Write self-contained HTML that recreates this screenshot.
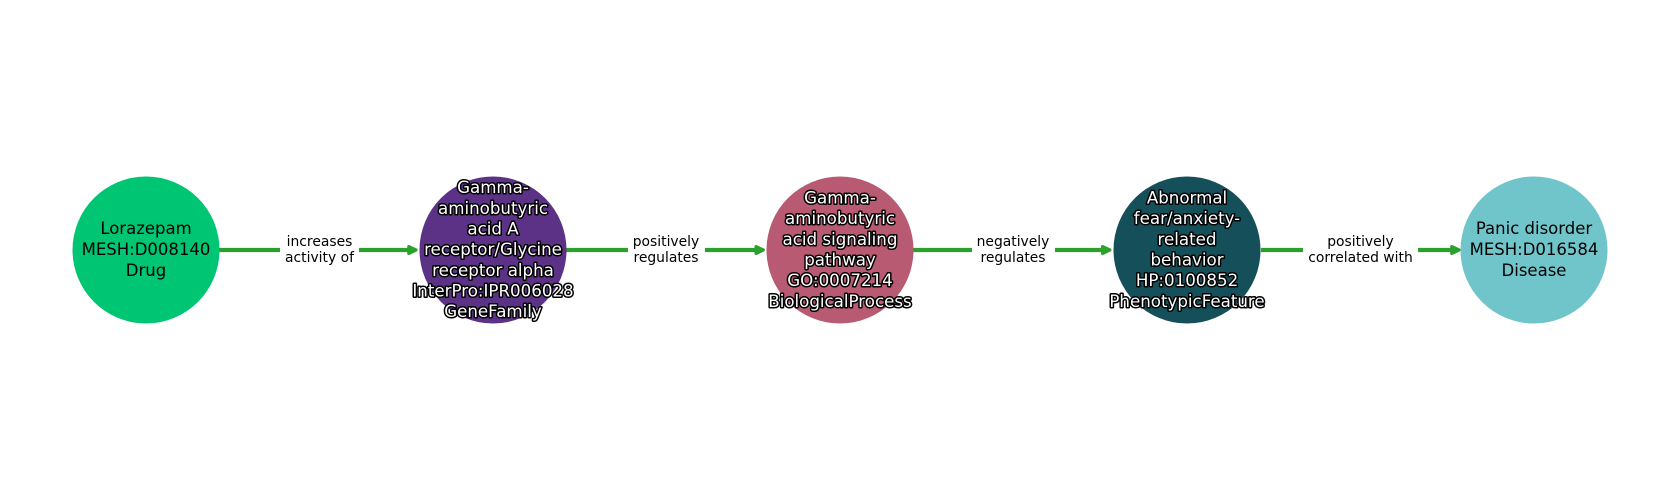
<!DOCTYPE html>
<html><head><meta charset="utf-8"><style>
html,body{margin:0;padding:0;background:#fff;width:1680px;height:500px;overflow:hidden}
svg{display:block}
text{font-family:"DejaVu Sans",sans-serif;text-anchor:middle}
.n{font-size:16.5px;fill:#000}
.w{font-size:16.67px;fill:#fff;stroke:#000;stroke-width:3px;paint-order:stroke;stroke-linejoin:round}
.e{font-size:13.89px;fill:#000}
</style></head><body>
<svg width="1680" height="500" viewBox="0 0 1680 500" xmlns="http://www.w3.org/2000/svg">
<g stroke="#2ca02c" stroke-width="4.17" fill="none">
<path d="M219 250H280M359 250H410"/>
<path d="M566 250H628M705 250H757"/>
<path d="M913 250H972M1055 250H1104"/>
<path d="M1261 250H1303M1418 250H1454"/>
</g>
<g fill="#2ca02c" stroke="#2ca02c" stroke-width="3.2" stroke-linejoin="round">
<path d="M408.800 246.600L416 250L408.800 253.400Z"/>
<path d="M756.100 246.600L763.300 250L756.100 253.400Z"/>
<path d="M1102.600 246.600L1109.800 250L1102.600 253.400Z"/>
<path d="M1451.800 246.600L1459 250L1451.800 253.400Z"/>
</g>
<circle cx="146" cy="250" r="73.500" fill="#00c573"/>
<circle cx="493" cy="250" r="73.500" fill="#5b3285"/>
<circle cx="840" cy="250" r="73.500" fill="#b85a72"/>
<circle cx="1187" cy="250" r="73.500" fill="#154f5a"/>
<circle cx="1534" cy="250" r="73.500" fill="#70c5cb"/>

<text class="n" x="146" y="234">Lorazepam</text>
<text class="n" x="146" y="255">MESH:D008140</text>
<text class="n" x="146" y="276">Drug</text>

<text class="w" x="493" y="193">Gamma-</text>
<text class="w" x="493" y="214">aminobutyric</text>
<text class="w" x="493" y="234.500">acid A</text>
<text class="w" x="493" y="255">receptor/Glycine</text>
<text class="w" x="493" y="276">receptor alpha</text>
<text class="w" x="493" y="296.500">InterPro:IPR006028</text>
<text class="w" x="493" y="317">GeneFamily</text>

<text class="w" x="840" y="203.500">Gamma-</text>
<text class="w" x="840" y="224">aminobutyric</text>
<text class="w" x="840" y="245">acid signaling</text>
<text class="w" x="840" y="265.500">pathway</text>
<text class="w" x="840" y="286">GO:0007214</text>
<text class="w" x="840" y="307">BiologicalProcess</text>

<text class="w" x="1187" y="203.500">Abnormal</text>
<text class="w" x="1187" y="224">fear/anxiety-</text>
<text class="w" x="1187" y="245">related</text>
<text class="w" x="1187" y="265.500">behavior</text>
<text class="w" x="1187" y="286">HP:0100852</text>
<text class="w" x="1187" y="307">PhenotypicFeature</text>

<text class="n" x="1534" y="234">Panic disorder</text>
<text class="n" x="1534" y="255">MESH:D016584</text>
<text class="n" x="1534" y="276">Disease</text>

<text class="e" x="319.500" y="246">increases</text>
<text class="e" x="319.500" y="262">activity of</text>
<text class="e" x="666" y="246">positively</text>
<text class="e" x="666" y="262">regulates</text>
<text class="e" x="1013" y="246">negatively</text>
<text class="e" x="1013" y="262">regulates</text>
<text class="e" x="1360.500" y="246">positively</text>
<text class="e" x="1360.500" y="262">correlated with</text>
</svg>
</body></html>
